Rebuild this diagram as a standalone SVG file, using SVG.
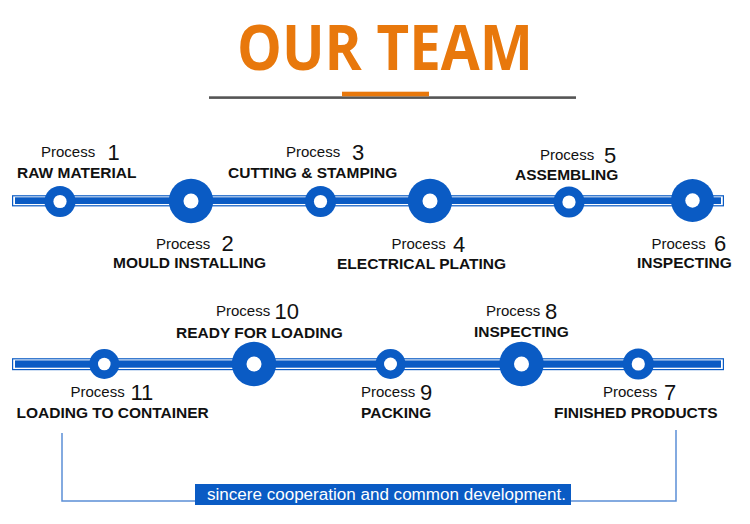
<svg xmlns="http://www.w3.org/2000/svg" width="750" height="524" viewBox="0 0 750 524">
<style>
.title{font-family:"Open Sans","Noto Sans","Liberation Sans",sans-serif;font-weight:700;font-size:62px;fill:#E8780C}
.p{font-family:"Liberation Sans",Arial,sans-serif;font-size:15px;fill:#111}
.d{font-family:"Liberation Sans",Arial,sans-serif;font-size:22px;fill:#111}
.l{font-family:"Liberation Sans",Arial,sans-serif;font-size:15.5px;font-weight:700;fill:#111}
.blue{fill:#0A5BC4}
.hole{fill:#fff}
.trackout{fill:#fff;stroke:#0A5BC4;stroke-width:1.2}
.bracket{fill:none;stroke:#5B8FD6;stroke-width:1.5}
.banner{font-family:"Liberation Sans",Arial,sans-serif;font-size:16px;fill:#fff}
</style>
<rect width="750" height="524" fill="#fff"/>
<g id="header">
<text class="title" x="385" y="70" text-anchor="middle" textLength="296" lengthAdjust="spacingAndGlyphs">OUR TEAM</text>
<rect x="209" y="96.3" width="367" height="2.6" fill="#555"/>
<rect x="342" y="91.7" width="87" height="4.6" fill="#E8780C"/>
</g>
<g id="connectors">
<rect class="trackout" x="12.6" y="195.8" width="710.8" height="10"/>
<rect class="blue" x="15" y="197.3" width="706" height="6.7"/>
<rect class="trackout" x="12.6" y="358.8" width="710.8" height="10.8"/>
<rect class="blue" x="15" y="360.4" width="706" height="7.3"/>
<polyline class="bracket" points="62,433 62,501 676,501 676,430"/>
</g>
<g id="node1">
<circle class="blue" cx="60" cy="201.5" r="15.5"/><circle class="hole" cx="60" cy="201.5" r="6.6"/>
<text class="p" x="41" y="157">Process</text><text class="d" x="107.5" y="159.5">1</text>
<text class="l" x="17" y="178">RAW MATERIAL</text>
</g>
<g id="node2">
<circle class="blue" cx="191" cy="201" r="22.2"/><circle class="hole" cx="191" cy="201" r="7.5"/>
<text class="p" x="156" y="248.5">Process</text><text class="d" x="221.5" y="251">2</text>
<text class="l" x="113" y="268">MOULD INSTALLING</text>
</g>
<g id="node3">
<circle class="blue" cx="320.5" cy="201.5" r="15.5"/><circle class="hole" cx="320.5" cy="201.5" r="6.6"/>
<text class="p" x="286" y="157">Process</text><text class="d" x="352" y="159.5">3</text>
<text class="l" x="228" y="178">CUTTING &amp; STAMPING</text>
</g>
<g id="node4">
<circle class="blue" cx="430" cy="201" r="22.2"/><circle class="hole" cx="430" cy="201" r="7.5"/>
<text class="p" x="391.5" y="249">Process</text><text class="d" x="453" y="251.5">4</text>
<text class="l" x="337" y="269">ELECTRICAL PLATING</text>
</g>
<g id="node5">
<circle class="blue" cx="569" cy="202" r="15.5"/><circle class="hole" cx="569" cy="202" r="6.6"/>
<text class="p" x="540" y="160">Process</text><text class="d" x="604" y="162.5">5</text>
<text class="l" x="515" y="180">ASSEMBLING</text>
</g>
<g id="node6">
<circle class="blue" cx="692.5" cy="200.5" r="21.5"/><circle class="hole" cx="692.5" cy="200.5" r="7.2"/>
<text class="p" x="651.5" y="248.5">Process</text><text class="d" x="714" y="251">6</text>
<text class="l" x="637" y="268">INSPECTING</text>
</g>
<g id="node7">
<circle class="blue" cx="638.3" cy="364" r="15.5"/><circle class="hole" cx="638.3" cy="364" r="6.6"/>
<text class="p" x="603" y="396.5">Process</text><text class="d" x="664" y="399.5">7</text>
<text class="l" x="554" y="417.5">FINISHED PRODUCTS</text>
</g>
<g id="node8">
<circle class="blue" cx="521.5" cy="364" r="22.2"/><circle class="hole" cx="521.5" cy="364" r="7.5"/>
<text class="p" x="486" y="316">Process</text><text class="d" x="545" y="319">8</text>
<text class="l" x="474" y="337">INSPECTING</text>
</g>
<g id="node9">
<circle class="blue" cx="390.5" cy="364" r="15"/><circle class="hole" cx="390.5" cy="364" r="6.5"/>
<text class="p" x="361" y="396.5">Process</text><text class="d" x="420" y="399.5">9</text>
<text class="l" x="361" y="417.5">PACKING</text>
</g>
<g id="node10">
<circle class="blue" cx="254" cy="364" r="22.2"/><circle class="hole" cx="254" cy="364" r="7.5"/>
<text class="p" x="216" y="316">Process</text><text class="d" x="274.5" y="319">10</text>
<text class="l" x="176" y="337.5">READY FOR LOADING</text>
</g>
<g id="node11">
<circle class="blue" cx="104.3" cy="364" r="15"/><circle class="hole" cx="104.3" cy="364" r="6.3"/>
<text class="p" x="70.5" y="396.5">Process</text><text class="d" x="130.5" y="399.5">11</text>
<text class="l" x="16.5" y="418">LOADING TO CONTAINER</text>
</g>
<g id="footer">
<rect class="blue" x="195" y="484" width="376" height="21"/>
<text class="banner" x="207" y="500" textLength="359" lengthAdjust="spacingAndGlyphs">sincere cooperation and common development.</text>
</g>
</svg>
